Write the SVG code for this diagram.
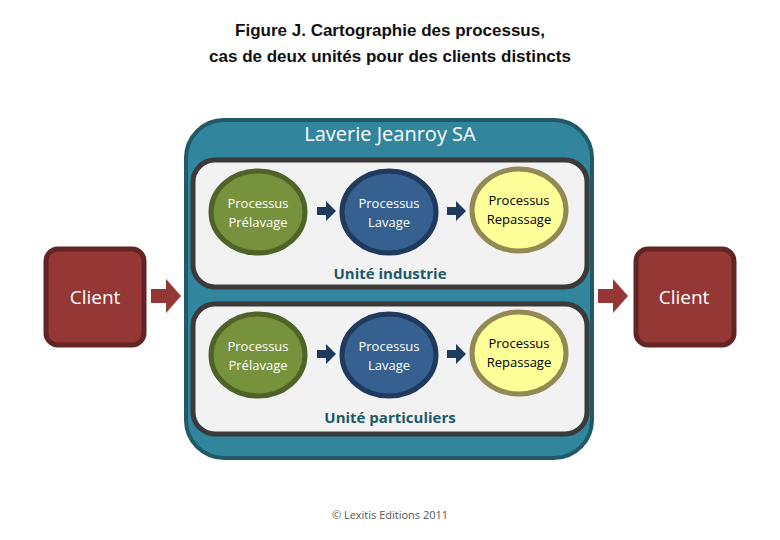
<svg xmlns="http://www.w3.org/2000/svg" width="780" height="540" viewBox="0 0 780 540">
<style>
.t{font-family:"Liberation Sans",Arial,sans-serif;font-size:17px;text-anchor:middle;font-weight:bold;fill:#111}
.c{font-family:"Open Sans","DejaVu Sans",sans-serif;text-anchor:middle}
.p{font-size:13px}
.g{fill:#77923c;stroke:#4f6228;stroke-width:5}
.b{fill:#35608f;stroke:#1f3a5c;stroke-width:5}
.y{fill:#ffff99;stroke:#938953;stroke-width:5}
.unit{fill:#f2f2f2;stroke:#3a3a3a;stroke-width:5}
.cl{fill:#953735;stroke:#632523;stroke-width:5}
.ar{fill:#1f3a5c}
.ra{fill:#953735}
</style>
<rect width="780" height="540" fill="#fff"/>
<text class="t" x="390" y="36">Figure J. Cartographie des processus,</text>
<text class="t" x="390" y="62">cas de deux unités pour des clients distincts</text>
<g id="laverie">
<rect x="186" y="120" width="406" height="338" rx="38" fill="#31859c" stroke="#215968" stroke-width="4"/>
<text class="c" x="390" y="141" font-size="20" fill="#fff">Laverie Jeanroy SA</text>
</g>
<g id="unite-industrie">
<rect class="unit" x="193" y="160" width="394" height="127" rx="22"/>
<text class="c" x="390" y="279" font-size="15" font-weight="bold" fill="#215968">Unité industrie</text>
</g>
<g id="unite-particuliers">
<rect class="unit" x="193" y="304" width="394" height="130" rx="22"/>
<text class="c" x="390" y="423" font-size="15" font-weight="bold" fill="#215968">Unité particuliers</text>
</g>
<g id="prelavage1"><ellipse class="g" cx="258" cy="212" rx="47" ry="41"/><text class="c p" fill="#fff" x="258" y="208">Processus</text><text class="c p" fill="#fff" x="258" y="227">Prélavage</text></g>
<g id="lavage1"><ellipse class="b" cx="389" cy="212" rx="47" ry="41"/><text class="c p" fill="#fff" x="389" y="208">Processus</text><text class="c p" fill="#fff" x="389" y="227">Lavage</text></g>
<g id="repassage1"><ellipse class="y" cx="519" cy="210" rx="47" ry="41"/><text class="c p" fill="#000" x="519" y="205">Processus</text><text class="c p" fill="#000" x="519" y="224">Repassage</text></g>
<g id="prelavage2"><ellipse class="g" cx="258" cy="355" rx="47" ry="41"/><text class="c p" fill="#fff" x="258" y="351">Processus</text><text class="c p" fill="#fff" x="258" y="370">Prélavage</text></g>
<g id="lavage2"><ellipse class="b" cx="389" cy="355" rx="47" ry="41"/><text class="c p" fill="#fff" x="389" y="351">Processus</text><text class="c p" fill="#fff" x="389" y="370">Lavage</text></g>
<g id="repassage2"><ellipse class="y" cx="519" cy="353" rx="47" ry="41"/><text class="c p" fill="#000" x="519" y="348">Processus</text><text class="c p" fill="#000" x="519" y="367">Repassage</text></g>
<g id="client-gauche"><rect class="cl" x="46" y="249" width="98" height="96" rx="12"/><text class="c" x="95" y="304" font-size="19" fill="#fff">Client</text></g>
<g id="client-droite"><rect class="cl" x="636" y="249" width="98" height="96" rx="12"/><text class="c" x="684" y="304" font-size="19" fill="#fff">Client</text></g>
<g id="connectors">
<path class="ar" d="M317 207h9v-6l10 10-10 10v-6h-9z"/>
<path class="ar" d="M447 207h9v-6l10 10-10 10v-6h-9z"/>
<path class="ar" d="M317 350h9v-6l10 10-10 10v-6h-9z"/>
<path class="ar" d="M447 350h9v-6l10 10-10 10v-6h-9z"/>
<path class="ra" d="M151 289h15v-10l15 17-15 17v-10h-15z"/>
<path class="ra" d="M598 289h15v-10l15 17-15 17v-10h-15z"/>
</g>
<text class="c" x="390" y="519" font-size="11" fill="#555">© Lexitis Editions 2011</text>
</svg>
